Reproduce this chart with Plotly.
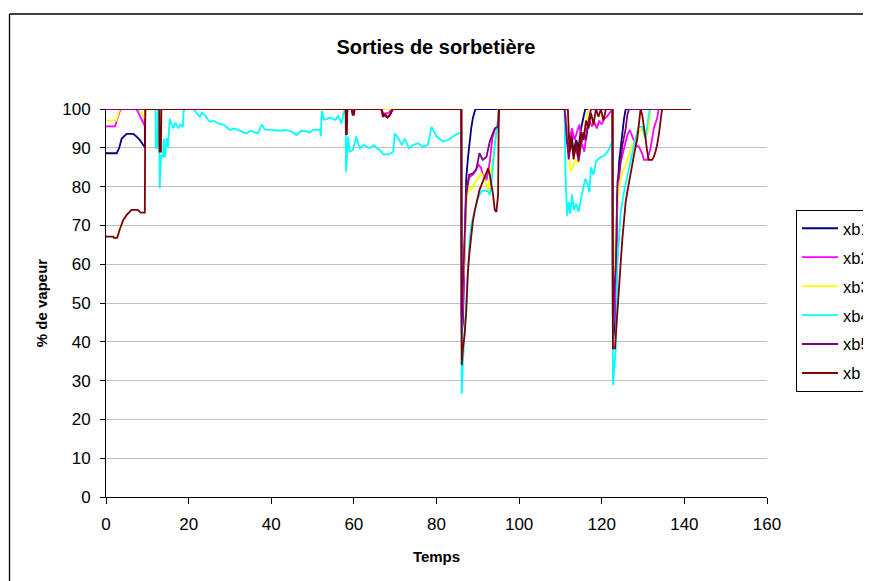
import plotly.graph_objects as go

# ---------------- data ----------------
t_xb1 = [0, 2.6, 3.2, 3.8, 5.0, 6.6, 7.4, 8.2, 9.0, 9.4, 9.5, 86.0, 86.1, 86.4, 86.8, 87.2, 87.6, 88.0, 88.4, 88.8, 89.4,
         111.1, 111.4, 112.0, 112.6, 113.2, 113.8, 114.4, 115.0, 115.6, 116.0, 122.6, 122.7, 123.2, 123.8, 124.2, 124.6,
         125.0, 125.4, 125.8, 141.6]
xb1 = [88.6, 88.6, 90, 92.4, 93.6, 93.6, 92.9, 92, 90.7, 90.2, 100, 100, 42.6, 45, 65, 82.1, 87.3, 91.6, 95, 97.6, 100,
       100, 92, 90, 94, 89, 92, 90, 95, 98, 100, 100, 40, 45, 77.8, 86.4, 90.7,
       94.2, 97.6, 100, 100]

t_xb2 = [0, 2.2, 2.9, 3.5, 7.4, 8.5, 9.3, 9.5, 58.0, 58.3, 58.6, 66.5, 67.0, 68.5, 69.0, 86.0, 86.1, 86.6, 87.2, 87.6,
         88.0, 88.8, 89.6, 90.2, 90.8, 91.2, 92.1, 92.9, 93.5, 94.1, 94.7, 95.1, 111.0, 111.6, 112.2, 112.8, 113.4,
         114.0, 114.6, 115.2, 115.8, 116.4, 117.0, 117.6, 118.2, 118.8, 119.4, 120.0, 120.6, 121.2, 121.8, 122.4,
         122.6, 122.7, 123.4, 123.8, 124.6, 125.4, 126.2, 126.8, 127.4, 128.2, 129.0, 129.8, 130.2, 131.0, 131.8,
         132.6, 133.4, 133.8, 141.6]
xb2 = [95.5, 95.5, 98, 100, 100, 97.7, 95.8, 100, 100, 99, 100, 100, 98.8, 99, 100, 100, 40, 55, 77.8, 81.3,
       82.5, 83, 84.3, 85.6, 84.8, 83, 81.7, 86.4, 92.4, 94.6, 95.2, 100, 100, 94, 92, 95, 92,
       94, 96, 91, 89, 95, 97, 95.5, 96.5, 95, 97, 96, 97.5, 98, 99, 100,
       100, 42, 55, 77.8, 86.4, 89.9, 93.3, 94.6, 92.8, 90.7, 90.3, 88.5, 86.9, 86.9, 89.9,
       95, 97.6, 100, 100]

t_xb3 = [0, 2.5, 3.3, 7.8, 9.0, 9.4, 9.5, 86.0, 86.1, 86.8, 87.2, 87.8, 88.4, 89.2, 90.0, 90.8, 91.6, 92.5, 92.9,
         93.5, 94.1, 94.7, 95.0, 111.0, 111.6, 112.0, 112.4, 113.0, 113.6, 114.2, 114.8, 115.4, 116.0, 116.6, 117.0,
         122.6, 122.7, 123.4, 124.2, 125.0, 125.8, 126.6, 127.4, 128.2, 129.0, 129.8, 130.6, 131.2, 131.8, 141.6]
xb3 = [97, 97, 100, 100, 98.5, 97.5, 100, 100, 50, 62, 75, 80.4, 79.1, 80.8, 82, 83.4, 82.1, 78.7, 82,
       86.4, 91.6, 95, 100, 100, 93, 88, 84, 85, 87, 86, 90, 93, 96, 99, 100,
       100, 50, 69.2, 80.4, 83.8, 85.6, 88.1, 90.7, 92.4, 94.2, 95, 92.4, 94.2, 100, 100]

t_xb4 = [0, 12.0, 12.1, 12.5, 12.6, 12.9, 13.0, 13.3, 13.8, 14.0, 14.3, 14.7, 15.0, 15.4, 15.8, 16.3, 16.8, 17.5, 18.0,
         18.6, 18.8, 19.2, 21.1, 21.9, 22.7, 23.2, 23.9, 24.7, 25.2, 26.0, 27.2, 28.4, 29.2, 30.0, 31.0, 32.0, 32.8,
         34.0, 35.0, 36.0, 36.8, 37.7, 38.5, 40.0, 42.1, 43.5, 44.9, 46.1, 47.3, 48.5, 49.3, 50.1, 51.8, 52.0, 52.2,
         52.8, 54.2, 55.5, 56.2, 57.0, 57.6, 58.0, 58.1, 58.6, 59.0, 59.8, 60.6, 61.4, 62.4, 63.8, 64.8, 65.6, 66.3,
         67.1, 68.5, 69.5, 69.9, 70.8, 71.6, 72.3, 73.3, 74.3, 75.5, 76.7, 77.9, 78.8, 80.0, 81.6, 82.8, 84.0, 85.2,
         86.0, 86.1, 86.4, 86.8, 87.2, 87.6, 88.0, 88.4, 89.2, 90.0, 90.8, 91.6, 92.5, 92.9, 93.3, 93.7, 94.1, 94.5,
         94.9, 95.1, 111.0, 111.2, 111.6, 112.0, 112.4, 112.8, 113.2, 113.8, 114.4, 115.0, 115.4, 116.0, 116.6, 117.0,
         117.4, 118.0, 118.6, 119.6, 120.6, 121.4, 122.2, 122.6, 122.7, 123.4, 123.8, 124.2, 124.6, 125.4, 126.2,
         127.0, 127.8, 128.6, 129.0, 129.8, 130.6, 131.2, 131.6, 141.6]
xb4 = [100, 100, 90, 90, 100, 100, 79.6, 88, 87.7, 92.4, 87.5, 92.5, 90, 97.5, 96.3, 95, 96.5, 95, 96,
       95.3, 99.5, 100, 100, 98.9, 98, 99, 98.5, 97.2, 96.7, 97, 96.3, 96, 95.4, 94.6, 95, 94.5, 94.1,
       93.7, 94.4, 94, 93.7, 96, 94.7, 94.6, 94.4, 94.6, 94.2, 93.3, 94.4, 94.3, 93.9, 94.6, 94.6, 93, 99.5,
       97.2, 97.8, 97.2, 98.2, 96.3, 99.5, 99, 83.8, 92.9, 89, 89.5, 92.9, 89.9, 90.7, 89.9, 90.7, 89.9, 89.4,
       88.3, 88.3, 89, 93.7, 92.4, 90.7, 92.4, 89.9, 90.7, 91.2, 90.3, 90.7, 95.4, 92.9, 91.6, 92, 92.9, 93.7,
       93.7, 26.7, 34.9, 43.5, 52.1, 60.6, 65.8, 70.1, 73.5, 77, 78.7, 79, 78.7, 77.8, 81, 86.4, 90.7, 94.1,
       97, 100, 100, 84, 72.5, 76, 73, 78, 74, 75.5, 73.5, 77, 79, 82, 80.5, 78.5,
       85, 83, 86.5, 87.5, 88, 89, 90.7, 92, 28.9, 38.3, 60.6, 67.5, 73.5, 78.7, 83,
       86.4, 90.7, 94.2, 95.4, 95.4, 92.4, 97, 100, 100]

t_xb5 = [0, 59.5, 59.7, 60.2, 66.7, 67.2, 68.0, 68.8, 69.5, 86.0, 86.1, 86.8, 87.2, 87.9, 88.8, 89.6, 90.4, 91.2, 92.1,
         92.9, 93.3, 94.1, 94.9, 95.1, 111.0, 111.6, 112.0, 112.6, 113.2, 113.8, 114.4, 115.0, 115.6, 116.2, 116.8,
         117.4, 122.6, 122.7, 123.4, 123.8, 124.2, 125.0, 125.8, 126.2, 126.6, 141.6]
xb5 = [100, 100, 98.7, 100, 100, 98.5, 97.9, 98.6, 100, 100, 46, 65, 77.8, 83, 83.4, 84.3, 88.6, 86.9, 87.7,
       91.6, 92.9, 95, 95.5, 100, 100, 91, 87, 92, 88, 90, 86.5, 91, 94, 92, 97,
       100, 100, 46, 60, 81.3, 83.8, 90.7, 95, 98.5, 100, 100]

t_xb = [0, 1.8, 1.9, 2.7, 3.4, 4.2, 5.0, 6.2, 7.7, 8.4, 9.4, 9.5, 12.9, 12.95, 13.3, 13.4, 58.0, 58.1, 58.3, 58.4,
        59.5, 59.7, 60.0, 60.2, 66.7, 67.0, 67.6, 68.2, 68.8, 69.3, 86.0, 86.1, 86.4, 86.8, 87.2, 87.6, 88.0, 88.4,
        88.8, 89.2, 89.6, 90.4, 91.2, 92.1, 92.5, 92.9, 93.3, 93.7, 94.1, 94.5, 94.9, 95.1, 111.8, 112.2, 112.6,
        113.2, 113.8, 114.4, 115.0, 115.6, 116.2, 116.8, 117.4, 118.0, 118.6, 119.2, 119.8, 120.4, 121.0, 122.6,
        122.7, 123.2, 123.8, 124.2, 124.6, 125.0, 125.4, 125.8, 126.2, 126.6, 127.0, 127.8, 128.6, 129.0, 129.4,
        129.8, 130.2, 130.6, 131.0, 131.4, 132.2, 132.6, 133.0, 133.4, 133.8, 134.2, 134.6, 141.6]
xb = [67.1, 67.1, 66.8, 66.8, 69.2, 71.4, 72.7, 74, 74, 73.3, 73.3, 100, 100, 89, 89, 100, 100, 93.5, 93.5, 100,
      100, 98.5, 98.5, 100, 100, 98, 98.6, 97.8, 98.5, 100, 100, 34, 38.3, 41.8, 47.8, 58.1, 63.2, 67.5,
      71, 73.5, 75.7, 79.1, 81.3, 83.7, 84.7, 83, 80.4, 77.8, 74, 73.5, 77.8, 100, 100, 89, 93,
      87, 92, 88, 94, 92, 97, 95, 99, 96, 100, 98, 100, 97, 100, 100,
      38.3, 38.3, 47.8, 55.5, 60.6, 66.7, 71.8, 76.1, 78.7, 81.3, 83.8, 88.1, 92.4, 96.7, 100,
      98.5, 95.9, 92.4, 89, 86.9, 86.9, 87.7, 89, 90.7, 93.3, 96.7, 100, 100]

names = ["xb1", "xb2", "xb3", "xb4", "xb5", "xb"]
colors = ["#000080", "#FF00FF", "#FFFF00", "#00FFFF", "#800080", "#800000"]

x_ticks = [0, 20, 40, 60, 80, 100, 120, 140, 160]
y_ticks = [0, 10, 20, 30, 40, 50, 60, 70, 80, 90, 100]

# ---------------- figure ----------------
# page body has an 8 px margin: figure is sized so it fits the 871x581 window
OFF = 8
W, H = 863, 573
ML, MR, MT, MB = 98, 104, 101, 84
PW, PH = W - ML - MR, H - MT - MB


def paper_x(px):  # px = absolute screen x
    return (px - OFF - ML) / PW


def paper_y(py):  # py = absolute screen y
    return (H + OFF - MB - py) / PH


series_x = [t_xb1, t_xb2, t_xb3, t_xb4, t_xb5, t_xb]
series_y = [xb1, xb2, xb3, xb4, xb5, xb]

fig = go.Figure()
for n, c, xs, ys in zip(names, colors, series_x, series_y):
    fig.add_trace(go.Scatter(x=xs, y=ys, mode="lines", name=n, legendgroup=n,
                             line=dict(color=c, width=1.8)))

font_family = "Liberation Sans, Arial, sans-serif"

fig.update_layout(
    width=W, height=H,
    margin=dict(l=ML, r=MR, t=MT, b=MB, autoexpand=False),
    paper_bgcolor="white", plot_bgcolor="white",
    font=dict(family=font_family, size=17, color="black"),
    title=dict(text="Sorties de sorbetière", x=(436 - OFF) / W, xref="container", xanchor="center",
               y=1 - (47 - OFF) / H, yref="container", yanchor="middle",
               font=dict(size=20, weight="bold", family=font_family, color="black")),
    xaxis=dict(range=[0, 160], tickvals=x_ticks, ticktext=[str(v) for v in x_ticks],
               showgrid=False, zeroline=False, showline=True, linecolor="black", linewidth=1,
               ticks="outside", ticklen=6, tickcolor="black", tickwidth=1,
               tickfont=dict(size=17), ticklabelstandoff=6,
               title=dict(text="Temps", font=dict(size=15, weight="bold"), standoff=18)),
    yaxis=dict(range=[0, 100], tickvals=y_ticks, ticktext=[str(v) for v in y_ticks],
               showgrid=True, gridcolor="#c0c0c0", gridwidth=1, zeroline=False,
               showline=True, linecolor="black", linewidth=1,
               ticks="outside", ticklen=5, tickcolor="black", tickwidth=1,
               tickfont=dict(size=17), ticklabelstandoff=6,
               title=dict(text="% de vapeur", font=dict(size=15, weight="bold"), standoff=10)),
    legend=dict(x=paper_x(796), y=paper_y(210), xanchor="left", yanchor="top",
                bordercolor="black", borderwidth=1, bgcolor="white",
                font=dict(size=16.5), tracegroupgap=4.5, traceorder="grouped",
                itemwidth=36),
    showlegend=True,
    shapes=[
        dict(type="line", xref="paper", yref="paper",
             x0=paper_x(9.5), x1=paper_x(2000), y0=paper_y(14), y1=paper_y(14),
             line=dict(color="black", width=1.3), layer="below"),
        dict(type="line", xref="paper", yref="paper",
             x0=paper_x(9.5), x1=paper_x(9.5), y0=paper_y(14), y1=paper_y(2000),
             line=dict(color="black", width=1.3), layer="below"),
    ],
)

fig.write_html("out.html")
